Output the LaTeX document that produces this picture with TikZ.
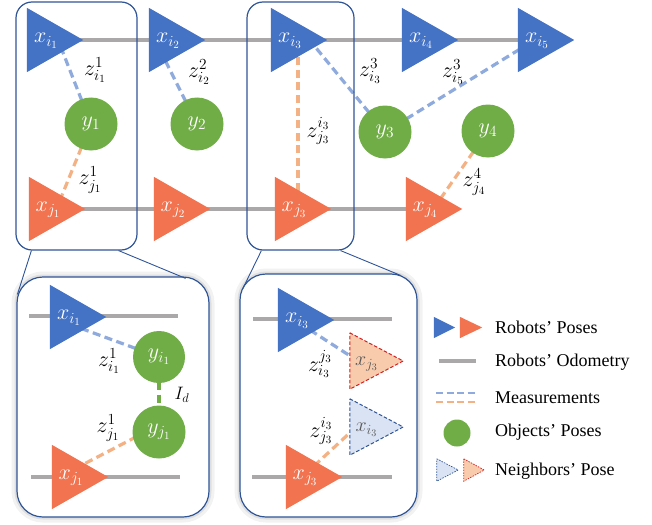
\RequirePackage{fix-cm}
\documentclass[tikz,border=0pt]{standalone}
\usepackage[no-math]{fontspec}
\newfontfamily\legendfont{Liberation Serif}
\usetikzlibrary{calc}

\definecolor{robotblue}{HTML}{4472C4}
\definecolor{robotorange}{HTML}{F1734F}
\definecolor{objgreen}{HTML}{70AD47}
\definecolor{measblue}{HTML}{8FAADC}
\definecolor{measorange}{HTML}{F4B183}
\definecolor{odomgray}{HTML}{AAA8A8}
\definecolor{boxblue}{HTML}{2F5597}
\definecolor{nbred}{HTML}{D42020}
\definecolor{nbbluefill}{HTML}{DAE3F3}
\definecolor{nborangefill}{HTML}{F8CBAD}
\definecolor{nbtext}{HTML}{595959}

\pgfdeclarelayer{back}
\pgfdeclarelayer{bg}
\pgfsetlayers{back,bg,main}

% right-pointing triangle filling the box of a named node
\newcommand\posetri[4][]{%
  \node[tribox,#1] (#2) at (#3) {};
  \path[#4] (#2.north west) -- (#2.east) -- (#2.south west) -- cycle;}

\tikzset{
  tribox/.style={rectangle, inner sep=0pt, minimum width=56pt, minimum height=64pt},
  mathlbl/.style={font=\fontsize{22}{25}\selectfont, inner sep=0pt},
  posetxt/.style={mathlbl, text=white},
  nbtxt/.style={mathlbl, text=nbtext, font=\fontsize{20}{23}\selectfont},
  objpose/.style={circle, fill=objgreen, minimum size=53pt, inner sep=0pt,
    font=\fontsize{22}{25}\selectfont, text=white},
  odom/.style={draw=odomgray, line width=3.4pt},
  measb/.style={draw=measblue, line width=3.2pt, dash pattern=on 8pt off 4.5pt},
  measo/.style={draw=measorange, line width=3.2pt, dash pattern=on 8pt off 4.5pt},
  measg/.style={draw=objgreen, line width=3.2pt, dash pattern=on 8pt off 4.5pt},
  frame/.style={rectangle, draw=boxblue, line width=1.2pt, rounded corners=16pt, inner sep=0pt},
  panel/.style={frame, rounded corners=26pt, fill=white,
    preaction={draw=black, opacity=0.05, line width=11pt},
    preaction={draw=black, opacity=0.08, line width=5pt}},
  zoomline/.style={draw=boxblue, line width=0.9pt},
  legend/.style={font=\legendfont\fontsize{18}{20}\selectfont, anchor=west, inner sep=0pt},
  nbfillo/.style={fill=nborangefill, draw=nbred, line width=1pt, dash pattern=on 3.5pt off 2pt},
  nbfillb/.style={fill=nbbluefill, draw=boxblue, line width=1pt, dash pattern=on 3.5pt off 2pt},
}

\begin{document}
\begin{tikzpicture}[x=1pt, y=-1pt]
\useasboundingbox (0,0) rectangle (652,524);

% ---------- upper graph: frames ----------
\node[frame, minimum width=121pt, minimum height=248pt] (b1) at (76.5,126) {};
\node[frame, minimum width=107pt, minimum height=248pt] (b2) at (300.5,126) {};

% ---------- robot i poses ----------
\posetri{xi1}{55,40}{fill=robotblue}
\posetri{xi2}{177,40}{fill=robotblue}
\posetri{xi3}{299,40}{fill=robotblue}
\posetri{xi4}{430,40}{fill=robotblue}
\posetri{xi5}{546,40}{fill=robotblue}
\node[posetxt] (xi1-t) at ([shift={(-9,1)}]xi1.center) {$x_{i_1}$};
\node[posetxt] (xi2-t) at ([shift={(-9,1)}]xi2.center) {$x_{i_2}$};
\node[posetxt] (xi3-t) at ([shift={(-9,1)}]xi3.center) {$x_{i_3}$};
\node[posetxt] (xi4-t) at ([shift={(-9,1)}]xi4.center) {$x_{i_4}$};
\node[posetxt] (xi5-t) at ([shift={(-9,1)}]xi5.center) {$x_{i_5}$};

% ---------- robot j poses ----------
\posetri{xj1}{57,209}{fill=robotorange}
\posetri{xj2}{182,209}{fill=robotorange}
\posetri{xj3}{303,209}{fill=robotorange}
\posetri{xj4}{434,209}{fill=robotorange}
\node[posetxt] (xj1-t) at ([shift={(-9,1)}]xj1.center) {$x_{j_1}$};
\node[posetxt] (xj2-t) at ([shift={(-9,1)}]xj2.center) {$x_{j_2}$};
\node[posetxt] (xj3-t) at ([shift={(-9,1)}]xj3.center) {$x_{j_3}$};
\node[posetxt] (xj4-t) at ([shift={(-9,1)}]xj4.center) {$x_{j_4}$};

% ---------- objects ----------
\node[objpose] (y1) at (91,124) {$y_1$};
\node[objpose] (y2) at (197,124) {$y_2$};
\node[objpose] (y3) at (385,132) {$y_3$};
\node[objpose] (y4) at (488,131) {$y_4$};

% ---------- measurement labels ----------
\node[mathlbl] (z1) at (95,70) {$z^{1}_{i_1}$};
\node[mathlbl] (z2) at (199,72) {$z^{2}_{i_2}$};
\node[mathlbl] (z3) at (318,131) {$z^{i_3}_{j_3}$};
\node[mathlbl] (z4) at (90,180) {$z^{1}_{j_1}$};
\node[mathlbl] (z5) at (370,71) {$z^{3}_{i_3}$};
\node[mathlbl] (z6) at (453,72) {$z^{3}_{i_5}$};
\node[mathlbl] (z7) at (474,182) {$z^{4}_{j_4}$};

\begin{pgfonlayer}{bg}
  \draw[odom] (xi1.center) -- (xi5.center);
  \draw[odom] (xj1.center) -- (xj4.center);
  \draw[measb] (y1.center) -- ([shift={(5,5)}]xi1.center);
  \draw[measb] (y2.center) -- ([shift={(-14,16)}]xi2.center);
  \draw[measb] (y3.center) -- ([shift={(13,3)}]xi3.center);
  \draw[measb] (y3.center) -- ([shift={(-21,6)}]xi5.center);
  \draw[measo] (y1.center) -- ([shift={(1,-4)}]xj1.center);
  \draw[measo] ([shift={(-1,5)}]xi3.center) -- ([shift={(-5,-4)}]xj3.center);
  \draw[measo] (y4.center) -- ([shift={(2,-4)}]xj4.center);
\end{pgfonlayer}

% ---------- zoomed panels ----------
\begin{pgfonlayer}{back}
  \node[panel, minimum width=192pt, minimum height=240pt] (b3) at (113,397) {};
  \node[panel, minimum width=177pt, minimum height=243pt] (b4) at (328.5,395.5) {};
\end{pgfonlayer}
\draw[zoomline] ([xshift=16pt]b1.south west) -- ([shift={(1,18)}]b3.north west);
\draw[zoomline] ([xshift=-19pt]b1.south east) -- ([shift={(-24,2)}]b3.north east);
\draw[zoomline] ([xshift=15pt]b2.south west) -- ([shift={(3,16)}]b4.north west);
\draw[zoomline] ([xshift=-14pt]b2.south east) -- ([shift={(-17,2)}]b4.north east);

% panel one: shared object seen by both robots
\coordinate (p1a) at (29,316);
\coordinate (p1b) at (178,316);
\coordinate (p1c) at (31,477);
\coordinate (p1d) at (180,477);
\posetri{pxi1}{78,317}{fill=robotblue}
\posetri{pxj1}{80,477}{fill=robotorange}
\node[posetxt] (pxi1-t) at ([shift={(-9,1)}]pxi1.center) {$x_{i_1}$};
\node[posetxt] (pxj1-t) at ([shift={(-9,1)}]pxj1.center) {$x_{j_1}$};
\node[objpose, minimum size=52pt] (pyi1) at (159,357) {$y_{i_1}$};
\node[objpose] (pyj1) at (159,432) {$y_{j_1}$};
\node[mathlbl] (pz1) at (109,361) {$z^{1}_{i_1}$};
\node[mathlbl] (pz2) at (108,428) {$z^{1}_{j_1}$};
\node[mathlbl, font=\fontsize{18}{21}\selectfont] (pid) at (182,395) {$I_d$};

% panel two: exchanged neighbour poses
\coordinate (p2a) at (253,319);
\coordinate (p2b) at (392,319);
\coordinate (p2c) at (252,477);
\coordinate (p2d) at (392,477);
\posetri{pxi3}{306,320}{fill=robotblue}
\posetri{pxj3}{314,477}{fill=robotorange}
\node[posetxt] (pxi3-t) at ([shift={(-9,1)}]pxi3.center) {$x_{i_3}$};
\node[posetxt] (pxj3-t) at ([shift={(-9,1)}]pxj3.center) {$x_{j_3}$};
\posetri[minimum width=53pt, minimum height=56pt]{nxj3}{376.5,361}{nbfillo}
\posetri[minimum width=53pt, minimum height=56pt]{nxi3}{376.5,427}{nbfillb}
\node[nbtxt] (nxj3-t) at ([shift={(-10,3)}]nxj3.center) {$x_{j_3}$};
\node[nbtxt] (nxi3-t) at ([shift={(-10,3)}]nxi3.center) {$x_{i_3}$};
\node[mathlbl] (pz3) at (320,364) {$z^{j_3}_{i_3}$};
\node[mathlbl] (pz4) at (321,431) {$z^{i_3}_{j_3}$};

\begin{pgfonlayer}{bg}
  \draw[odom] (p1a) -- (p1b);
  \draw[odom] (p1c) -- (p1d);
  \draw[measb] (pyi1.center) -- ([shift={(2,11)}]pxi1.center);
  \draw[measo] ([yshift=7pt]pyj1.center) -- ([shift={(4,-13)}]pxj1.center);
  \draw[measg] (pyi1.center) -- (pyj1.center);
  \draw[odom] (p2a) -- (p2b);
  \draw[odom] (p2c) -- (p2d);
  \draw[measb] ([shift={(4,10)}]pxi3.center) -- ([shift={(2,-4)}]nxj3.west);
  \draw[measo] ([shift={(0,-11)}]pxj3.center) -- ([shift={(2,4)}]nxi3.west);
\end{pgfonlayer}

% ---------- legend ----------
\posetri[minimum width=21pt, minimum height=21pt]{lgb}{444.5,327.5}{fill=robotblue}
\posetri[minimum width=22pt, minimum height=21pt]{lgo}{471,327.5}{fill=robotorange}
\node[legend] (lt1) at (495,327) {Robots’ Poses};
\coordinate (lo1) at (439,361);
\coordinate (lo2) at (476,361);
\draw[odom] (lo1) -- (lo2);
\node[legend] (lt2) at (495,362) {Robots’ Odometry};
\coordinate (lm1) at (436,393);
\coordinate (lm2) at (478,393);
\coordinate (lm3) at (436,402);
\coordinate (lm4) at (478,402);
\draw[measb, line width=2.4pt, dash pattern=on 7pt off 3.5pt] (lm1) -- (lm2);
\draw[measo, line width=2.4pt, dash pattern=on 7pt off 3.5pt] (lm3) -- (lm4);
\node[legend] (lt3) at (495,398) {Measurements};
\node[objpose, minimum size=27pt] (lgc) at (457,433) {};
\node[legend] (lt4) at (495,432) {Objects’ Poses};
\posetri[minimum width=21pt, minimum height=22pt]{lnb}{447.5,470}{nbfillb, line width=0.7pt, dash pattern=on 1.5pt off 1.2pt}
\posetri[minimum width=20pt, minimum height=22pt]{lno}{474,470}{nbfillo, line width=0.7pt, dash pattern=on 1.5pt off 1.2pt}
\node[legend] (lt5) at (495,471) {Neighbors’ Pose};
\end{tikzpicture}
\end{document}
